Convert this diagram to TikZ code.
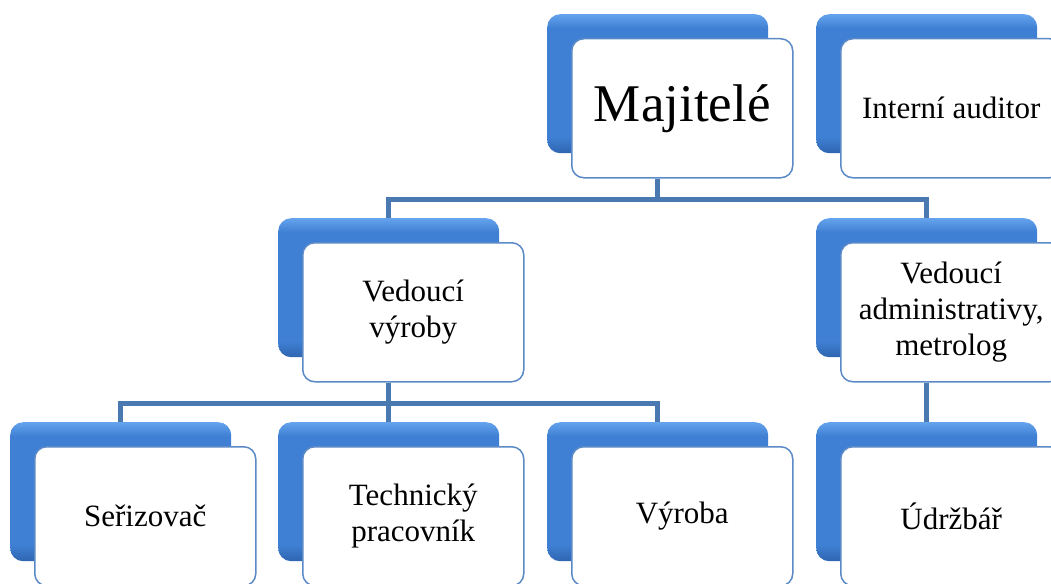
\documentclass[tikz,border=0pt]{standalone}
\usepackage{fontspec}
\setmainfont{Liberation Serif}
\definecolor{lineBlue}{HTML}{4A78B0}
\definecolor{frameBlue}{HTML}{5B8AC6}
\definecolor{bTop}{HTML}{64A3EC}
\definecolor{bMid}{HTML}{3F80D4}
\definecolor{bBot}{HTML}{2F65B0}
\pgfdeclareverticalshading{boxshade}{100bp}{color(0bp)=(bBot); color(25bp)=(bBot); color(31bp)=(bMid); color(70bp)=(bMid); color(75bp)=(bTop); color(100bp)=(bTop)}
\begin{document}
\begin{tikzpicture}[x=1pt,y=-1pt,
  back/.style={rectangle, rounded corners=13pt, minimum width=221pt, minimum height=139pt,
    anchor=north west, shading=boxshade, inner sep=0pt},
  front/.style={rectangle, rounded corners=12pt, minimum width=221pt, minimum height=139pt,
    anchor=north west, fill=white, draw=frameBlue, line width=1.5pt,
    font=\fontsize{31}{36}\selectfont, align=center, text=black, inner sep=2pt},
  conn/.style={draw=lineBlue, line width=5pt}]
\useasboundingbox (0,0) rectangle (1051,583);
\clip (0,0) rectangle (1051,583);
% back boxes
\node[back] (mB) at (547,14) {};
\node[back] (iaB) at (816,14) {};
\node[back] (vvB) at (278,218) {};
\node[back] (vaB) at (816,218) {};
\node[back] (sB) at (10,422) {};
\node[back] (tB) at (278,422) {};
\node[back] (vyB) at (547,422) {};
\node[back] (uB) at (816,422) {};
% front boxes
\node[front] (mW) at (571,38) {\fontsize{53}{60}\selectfont Majitelé};
\node[front] (iaW) at (840,38) {Interní auditor};
\node[front] (vvW) at (302,242) {Vedoucí\\výroby};
\node[front] (vaW) at (840,242) {Vedoucí\\administrativy,\\metrolog};
\node[front] (sW) at (34,446) {Seřizovač};
\node[front] (tW) at (302,446) {Technický\\pracovník};
\node[front] (vyW) at (571,446) {Výroba};
\node[front] (uW) at (840,446) {Údržbář};
% connectors
\draw[conn] (mB.center |- mW.south) -- ++(0,20.5) -| (vvB.north);
\draw[conn] (mB.center |- mW.south) -- ++(0,20.5) -| (vaB.north);
\draw[conn] (vvB.center |- vvW.south) -- ++(0,20.5) -| (sB.north);
\draw[conn] (vvB.center |- vvW.south) -- ++(0,20.5) -| (tB.north);
\draw[conn] (vvB.center |- vvW.south) -- ++(0,20.5) -| (vyB.north);
\draw[conn] (vaB.center |- vaW.south) -- (uB.north);
\end{tikzpicture}
\end{document}
